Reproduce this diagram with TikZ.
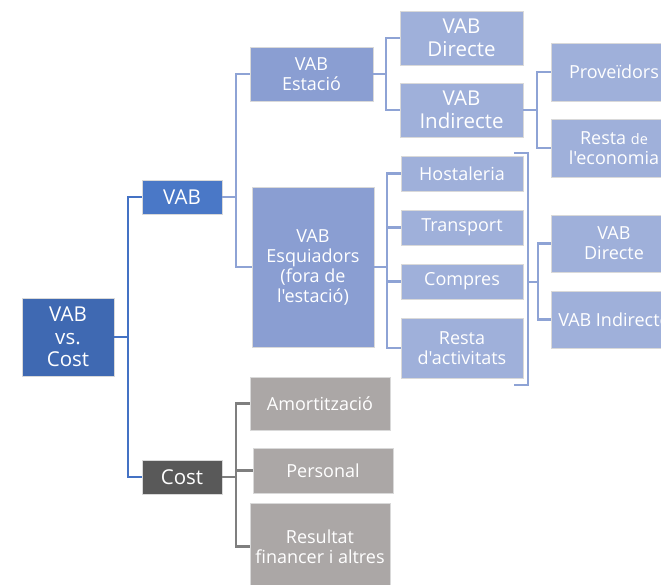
\documentclass[tikz,border=0pt]{standalone}
\usepackage{fontspec}
\setmainfont{Open Sans}[Ligatures=TeXOff]
\definecolor{cRoot}{HTML}{3F69B2}
\definecolor{cVab}{HTML}{4A78C7}
\definecolor{cMid}{HTML}{8A9ED2}
\definecolor{cLeaf}{HTML}{9FB0DA}
\definecolor{cCost}{HTML}{595959}
\definecolor{cGray}{HTML}{ABA7A6}
\definecolor{lBlue}{HTML}{4472C4}
\definecolor{lLight}{HTML}{8EA3D5}
\definecolor{lGray}{HTML}{7F7F7F}
\begin{document}
\begin{tikzpicture}[x=1pt,y=-1pt,
  box/.style={rectangle,inner sep=0pt,text=white,align=center,draw=white!85!black,line width=0.4pt},
  big/.style={font=\fontsize{20.5}{22.5}\selectfont},
  small/.style={font=\fontsize{18}{20}\selectfont},
  lnA/.style={draw=lBlue,line width=2.8pt},
  lnB/.style={draw=lLight,line width=2.5pt},
  lnC/.style={draw=lGray,line width=2.5pt}]
\useasboundingbox (0,0) rectangle (661,585);
% nodes
\node[box,big,fill=cRoot,minimum width=92,minimum height=78] (root) at (68,337) {VAB\\vs.\\Cost};
\node[box,big,fill=cVab,minimum width=80,minimum height=34] (vab) at (182,197) {VAB};
\node[box,big,fill=cCost,minimum width=80,minimum height=34] (cost) at (182,477) {Cost};
\node[box,small,fill=cMid,minimum width=123,minimum height=54] (est) at (311.5,74) {VAB\\Estació};
\node[box,small,fill=cMid,minimum width=122,minimum height=160] (esq) at (313,267) {VAB\\Esquiadors\\(fora de\\l'estació)};
\node[box,big,fill=cLeaf,minimum width=123,minimum height=54] (dir1) at (461.5,38) {VAB\\Directe};
\node[box,big,fill=cLeaf,minimum width=123,minimum height=54] (ind1) at (461.5,110) {VAB\\Indirecte};
\node[box,small,fill=cLeaf,minimum width=126,minimum height=58] (prov) at (614,72) {Proveïdors};
\node[box,small,fill=cLeaf,minimum width=126,minimum height=58] (resta) at (614,148) {Resta {\fontsize{14.5}{20}\selectfont de}\\l'economia};
\node[box,small,fill=cLeaf,minimum width=122,minimum height=35] (host) at (462,173.5) {Hostaleria};
\node[box,small,fill=cLeaf,minimum width=122,minimum height=35] (trans) at (462,227.5) {Transport};
\node[box,small,fill=cLeaf,minimum width=122,minimum height=35] (comp) at (462,281.5) {Compres};
\node[box,small,fill=cLeaf,minimum width=122,minimum height=60] (ract) at (462,348) {Resta\\d'activitats};
\node[box,small,fill=cLeaf,minimum width=126,minimum height=57] (dir2) at (614,243.5) {VAB\\Directe};
\node[box,small,fill=cLeaf,minimum width=126,minimum height=57] (ind2) at (614,319.5) {VAB Indirecte};
\node[box,small,fill=cGray,minimum width=140,minimum height=53] (amort) at (320,403.5) {Amortització};
\node[box,small,fill=cGray,minimum width=140,minimum height=45] (pers) at (323,470.5) {Personal};
\node[box,small,fill=cGray,minimum width=140,minimum height=87] (res) at (320,546.5) {Resultat\\financer i altres};
% connectors level 1
\coordinate (j0) at (128,337);
\draw[lnA] (root.east) -- (j0);
\draw[lnA] (j0) |- (vab.west);
\draw[lnA] (j0) |- (cost.west);
% VAB
\coordinate (j1) at (236,197);
\draw[lnB] (vab.east) -- (j1);
\draw[lnB] (j1) |- (est.west);
\draw[lnB] (j1) |- (esq.west);
% Estacio
\coordinate (j2) at (386,74);
\draw[lnB] (est.east) -- (j2);
\draw[lnB] (j2) |- (dir1.west);
\draw[lnB] (j2) |- (ind1.west);
% Indirecte
\coordinate (j3) at (537,110);
\draw[lnB] (ind1.east) -- (j3);
\draw[lnB] (j3) |- (prov.west);
\draw[lnB] (j3) |- (resta.west);
% Esquiadors
\coordinate (j4) at (387,267);
\draw[lnB] (esq.east) -- (j4);
\draw[lnB] (j4) |- (host.west);
\draw[lnB] (j4) |- (trans.west);
\draw[lnB] (j4) |- (comp.west);
\draw[lnB] (j4) |- (ract.west);
% bracket
\coordinate (bt) at (514,153);
\coordinate (bb) at (514,385);
\coordinate (bm) at (528,282);
\draw[lnB] (bt) -- (528,153) -- (528,385) -- (bb);
\coordinate (j5) at (538,282);
\draw[lnB] (bm) -- (j5);
\draw[lnB] (j5) |- (dir2.west);
\draw[lnB] (j5) |- (ind2.west);
% Cost
\coordinate (j6) at (236,477);
\draw[lnC] (cost.east) -- (j6);
\draw[lnC] (j6) |- (amort.west);
\draw[lnC] (j6) |- (pers.west);
\draw[lnC] (j6) |- (res.west);
\end{tikzpicture}
\end{document}
